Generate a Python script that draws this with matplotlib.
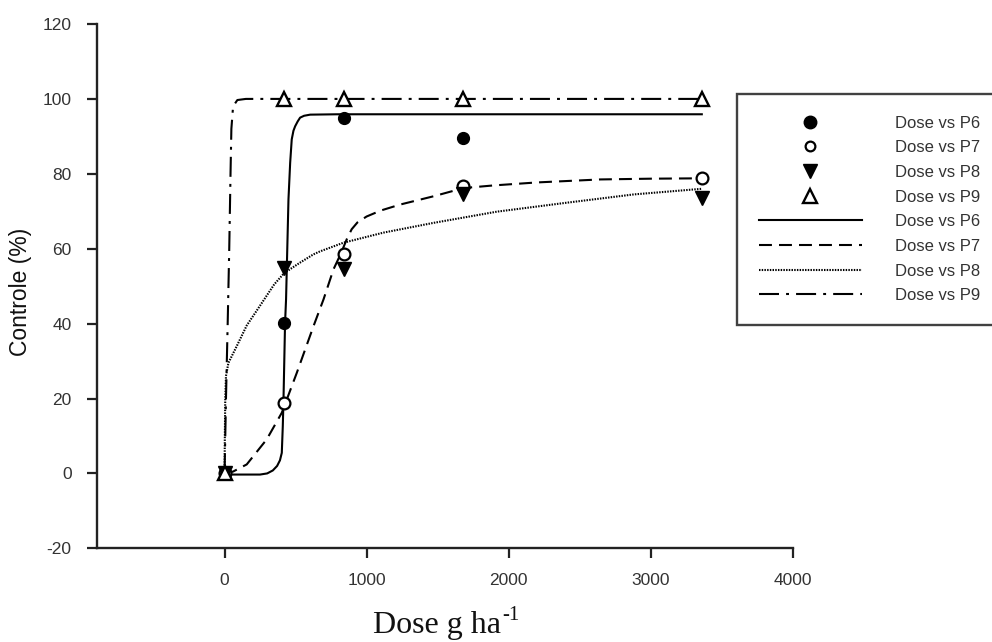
import matplotlib
matplotlib.use("Agg")
import matplotlib.pyplot as plt
from matplotlib.lines import Line2D
import numpy as np

plt.rcParams['font.family'] = ['Liberation Sans', 'DejaVu Sans']
plt.rcParams['axes.unicode_minus'] = False

# observed data
dose = [0, 420, 840, 1680, 3360]
p6 = [0, 40.2, 95.0, 89.6, np.nan]
p7 = [0, 18.9, 58.5, 76.7, 79.0]
p8 = [0, 54.9, 54.5, 74.5, 73.6]
p9 = [0, 100, 100, 100, 100]

# fitted curves
c6_x = [0, 250, 300, 340, 370, 390, 403, 410, 415, 426, 433, 450, 462, 473, 485, 497, 515, 532, 560, 603, 800, 3360]
c6_y = [-0.3, -0.3, 0, 0.8, 2, 3.5, 5.5, 12.6, 19.8, 40.2, 46.5, 73.2, 83, 89.2, 91.5, 92.7, 94, 95, 95.5, 95.8, 95.9, 95.9]
c7_x = [0, 60, 156, 297, 403, 509, 626, 697, 767, 820, 860, 895, 935, 1000, 1100, 1237, 1471, 1683, 1894, 2200, 2646, 3000, 3360]
c7_y = [0, 0.5, 2.4, 9.1, 16.2, 26.9, 39.3, 46.5, 54.5, 58.8, 62.5, 65.2, 67.0, 68.6, 70.2, 71.8, 74.0, 76.2, 76.9, 77.7, 78.5, 78.7, 78.8]
c8_x = [0, 2, 5, 10, 27, 86, 156, 227, 285, 350, 420, 532, 626, 673, 837, 1119, 1471, 1918, 2412, 2881, 3360]
c8_y = [0, 10, 20, 26, 29.5, 34, 39.5, 43.5, 46.8, 50.5, 53.5, 56.3, 58.5, 59.3, 61.6, 64.3, 66.9, 69.9, 72.3, 74.5, 76.0]
c9_x = [0, 10, 22, 33, 42, 48, 60, 90, 150, 3360]
c9_y = [0, 20, 40, 60, 80, 92, 98, 99.7, 100, 100]

xticks = [0, 1000, 2000, 3000, 4000]
yticks = [-20, 0, 20, 40, 60, 80, 100, 120]
series_labels = ['Dose vs P6', 'Dose vs P7', 'Dose vs P8', 'Dose vs P9']

fig = plt.figure(figsize=(9.92, 6.42), dpi=100)
ax = fig.add_axes([0.0975, 0.1459, 0.7016, 0.8167])

lw = 1.5
ls6 = '-'
ls7 = (0, (6.2, 3.4))
ls8 = (0, (0.7, 0.6))
ls9 = (0, (9.6, 3.4, 1.4, 3.4))

ax.plot(c6_x, c6_y, color='k', lw=lw, ls=ls6, zorder=2)
ax.plot(c7_x, c7_y, color='k', lw=lw, ls=ls7, zorder=2)
ax.plot(c8_x, c8_y, color='k', lw=1.5, ls=ls8, zorder=2)
ax.plot(c9_x, c9_y, color='k', lw=lw, ls=ls9, zorder=2)

msc = 8.5
mst = 10
ax.plot(dose, p6, ls='none', marker='o', ms=msc, mfc='k', mec='k', zorder=3)
ax.plot(dose, p7, ls='none', marker='o', ms=msc, mfc='white', mec='k', mew=1.6, zorder=3)
ax.plot(dose, p8, ls='none', marker='v', ms=mst, mfc='k', mec='k', zorder=3)
ax.plot(dose, p9, ls='none', marker='^', ms=mst, mfc='white', mec='k', mew=1.7, zorder=3)

ax.set_xlim(-900, 4000)
ax.set_ylim(-20, 120)
ax.set_xticks(xticks)
ax.set_yticks(yticks)
for s in ['top', 'right']:
    ax.spines[s].set_visible(False)
for s in ['left', 'bottom']:
    ax.spines[s].set_linewidth(1.7)
    ax.spines[s].set_color('#222222')
ax.tick_params(direction='out', length=7, width=1.6, color='#222222',
               labelsize=12.5, labelcolor='#333333', pad=11)

fig.text(0.0207, 1 - 292 / 642, 'Controle (%)', rotation=90, ha='center', va='center',
         fontsize=16.5, color='#111111')

# x label: "Dose g ha" with superscript "-1"
xl = fig.text(373 / 992, 1 - 633 / 642, 'Dose g ha', ha='left', va='baseline',
              fontsize=23, family='Liberation Serif', color='#111111')
fig.canvas.draw()
bb = xl.get_window_extent(renderer=fig.canvas.get_renderer())
fig.text(bb.x1 / fig.bbox.width + 0.001, 1 - 620 / 642, '-1', ha='left', va='baseline',
         fontsize=15, family='Liberation Serif', color='#111111')

handles = [
    Line2D([], [], ls='none', marker='o', ms=9, mfc='k', mec='k'),
    Line2D([], [], ls='none', marker='o', ms=7, mfc='white', mec='k', mew=1.6),
    Line2D([], [], ls='none', marker='v', ms=10, mfc='k', mec='k'),
    Line2D([], [], ls='none', marker='^', ms=10, mfc='white', mec='k', mew=1.7),
    Line2D([], [], color='k', lw=lw, ls=ls6),
    Line2D([], [], color='k', lw=lw, ls=ls7),
    Line2D([], [], color='k', lw=1.5, ls=ls8),
    Line2D([], [], color='k', lw=lw, ls=ls9),
]
labels = series_labels * 2
leg = fig.legend(handles, labels, loc='upper left', bbox_to_anchor=(737 / 992, 1 - 94 / 642),
                 fontsize=12, frameon=True, fancybox=False, borderpad=1.3,
                 labelspacing=0.58, handlelength=6.2, handletextpad=2.0,
                 borderaxespad=0, labelcolor='#333333')
leg.get_frame().set_edgecolor('#111111')
leg.get_frame().set_linewidth(1.7)

fig.savefig('out.png', dpi=100)
